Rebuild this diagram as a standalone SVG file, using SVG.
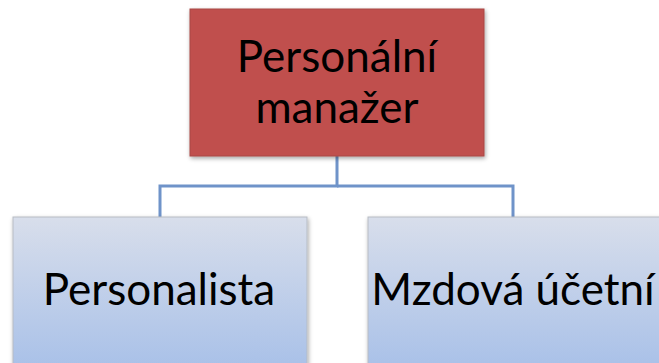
<svg xmlns="http://www.w3.org/2000/svg" width="659" height="363" viewBox="0 0 659 363">
<style>
.lbl{font-family:Lato,"Liberation Sans",sans-serif;font-size:44px;fill:#000;text-anchor:middle}
.conn{fill:none;stroke:#6f93c9;stroke-width:3}
</style>
<defs>
<linearGradient id="blue" x1="0" y1="0" x2="0" y2="1">
<stop offset="0" stop-color="#d8deeb"/>
<stop offset="1" stop-color="#a6bfe8"/>
</linearGradient>
<filter id="sh" x="-10%" y="-10%" width="120%" height="130%">
<feDropShadow dx="1" dy="2" stdDeviation="2" flood-color="#000" flood-opacity="0.35"/>
</filter>
</defs>
<rect width="659" height="363" fill="#fff"/>
<g id="connectors">
<polyline class="conn" points="337,156 337,186 160,186 160,217"/>
<polyline class="conn" points="337,186 513,186 513,217"/>
</g>
<g id="n-manager">
<rect x="190" y="9" width="294" height="147" fill="#c0504d" stroke="#a84744" stroke-width="1" filter="url(#sh)"/>
<text class="lbl" x="337" y="72">Personální</text>
<text class="lbl" x="337" y="123">manažer</text>
</g>
<g id="n-personalista">
<rect x="13" y="217" width="294" height="160" fill="url(#blue)" stroke="#b7bcc4" stroke-width="1" filter="url(#sh)"/>
<text class="lbl" x="159" y="305">Personalista</text>
</g>
<g id="n-mzdova">
<rect x="368" y="217" width="300" height="160" fill="url(#blue)" stroke="#b7bcc4" stroke-width="1" filter="url(#sh)"/>
<text class="lbl" x="513" y="305">Mzdová účetní</text>
</g>
</svg>
